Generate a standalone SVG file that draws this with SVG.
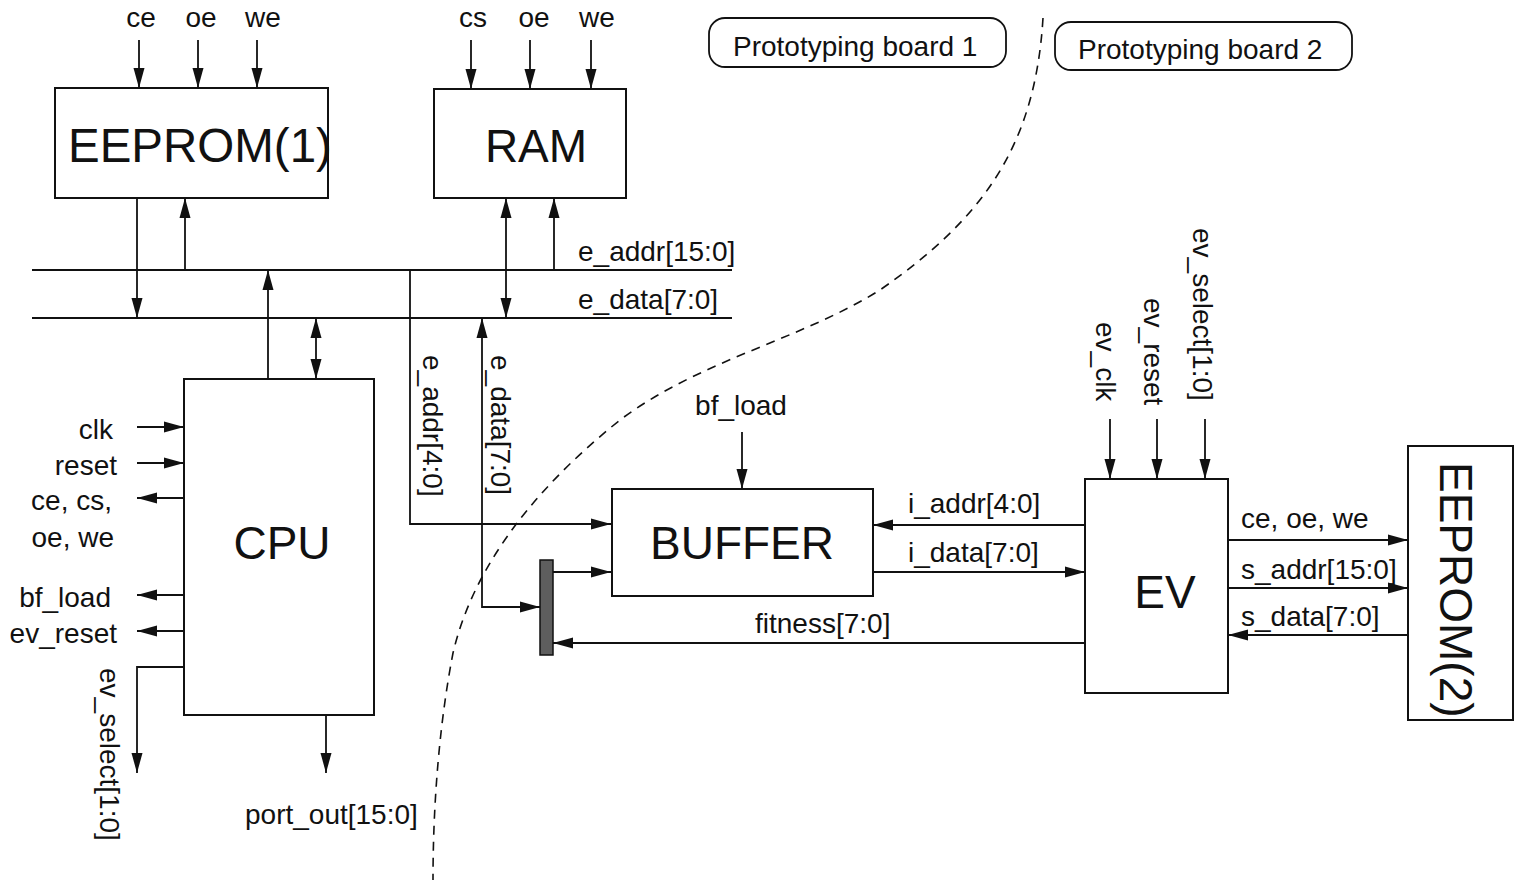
<svg xmlns="http://www.w3.org/2000/svg" width="1515" height="888" viewBox="0 0 1515 888">
<style>
text{font-family:"Liberation Sans",Arial,sans-serif;fill:#111}
.s{font-size:28px}
.b{font-size:46px}
.box{fill:#fff;stroke:#111;stroke-width:2}
.w{fill:none;stroke:#111;stroke-width:1.8}
.a{marker-end:url(#ah)}
.aa{marker-start:url(#ah);marker-end:url(#ah)}
.dash{fill:none;stroke:#111;stroke-width:1.6;stroke-dasharray:9 7}
</style>
<defs>
<marker id="ah" markerUnits="userSpaceOnUse" markerWidth="20" markerHeight="12" refX="20" refY="6" orient="auto-start-reverse">
<path d="M0,0.5 L20,6 L0,11.5 z" fill="#111"/>
</marker>
</defs>
<rect width="1515" height="888" fill="#fff"/>

<g id="boundary">
<path class="dash" d="M1043,18 C1035,150 980,220 880,290 C800,340 700,360 620,420 C520,500 470,580 453,653 C440,720 433,800 433,880"/>
</g>

<g id="board1">
<rect x="709" y="18" width="297" height="49" rx="16" fill="#fff" stroke="#111" stroke-width="1.8"/>
<text class="s" x="733" y="56">Prototyping board 1</text>
</g>
<g id="board2">
<rect x="1055" y="22" width="297" height="48" rx="16" fill="#fff" stroke="#111" stroke-width="1.8"/>
<text class="s" x="1078" y="59">Prototyping board 2</text>
</g>

<g id="eeprom1">
<rect class="box" x="55" y="88" width="273" height="110"/>
<text class="b" x="68" y="162" style="font-size:47.5px">EEPROM(1)</text>
<text class="s" x="141" y="27" text-anchor="middle">ce</text>
<text class="s" x="201" y="27" text-anchor="middle">oe</text>
<text class="s" x="263" y="27" text-anchor="middle">we</text>
</g>

<g id="ram">
<rect class="box" x="434" y="89" width="192" height="109"/>
<text class="b" x="536" y="162" text-anchor="middle">RAM</text>
<text class="s" x="473" y="27" text-anchor="middle">cs</text>
<text class="s" x="534" y="27" text-anchor="middle">oe</text>
<text class="s" x="597" y="27" text-anchor="middle">we</text>
</g>

<g id="cpu">
<rect class="box" x="184" y="379" width="190" height="336"/>
<text class="b" x="282" y="559" text-anchor="middle">CPU</text>
<text class="s" x="113" y="439" text-anchor="end">clk</text>
<text class="s" x="117" y="475" text-anchor="end">reset</text>
<text class="s" x="112" y="510" text-anchor="end">ce, cs,</text>
<text class="s" x="114" y="547" text-anchor="end">oe, we</text>
<text class="s" x="111" y="607" text-anchor="end">bf_load</text>
<text class="s" x="117" y="643" text-anchor="end">ev_reset</text>
<text class="s" transform="translate(100,668) rotate(90)">ev_select[1:0]</text>
<text class="s" x="245" y="824">port_out[15:0]</text>
</g>

<g id="buffer">
<rect class="box" x="612" y="489" width="261" height="107"/>
<text class="b" x="742" y="559" text-anchor="middle">BUFFER</text>
<text class="s" x="741" y="415" text-anchor="middle">bf_load</text>
</g>

<g id="mux">
<rect x="540" y="560" width="13" height="95" fill="#5e5e5e" stroke="#111" stroke-width="1.5"/>
</g>

<g id="ev">
<rect class="box" x="1085" y="479" width="143" height="214"/>
<text class="b" x="1165" y="608" text-anchor="middle">EV</text>
<text class="s" transform="translate(1096,322) rotate(90)">ev_clk</text>
<text class="s" transform="translate(1144,298) rotate(90)">ev_reset</text>
<text class="s" transform="translate(1193,228) rotate(90)">ev_select[1:0]</text>
</g>

<g id="eeprom2">
<rect class="box" x="1408" y="446" width="105" height="274"/>
<text class="b" transform="translate(1440,462) rotate(90)">EEPROM(2)</text>
</g>

<g id="connectors">
<path class="w a" d="M139,40 V88"/>
<path class="w a" d="M198,40 V88"/>
<path class="w a" d="M257,40 V88"/>
<path class="w a" d="M471,40 V89"/>
<path class="w a" d="M530,40 V89"/>
<path class="w a" d="M591,40 V89"/>
<path class="w" d="M32,270 H732"/>
<path class="w" d="M32,318 H732"/>
<path class="w a" d="M137,198 V318"/>
<path class="w a" d="M185,270 V198"/>
<path class="w a" d="M268,379 V270"/>
<path class="w aa" d="M316,318 V379"/>
<path class="w aa" d="M506,198 V318"/>
<path class="w a" d="M554,270 V198"/>
<path class="w a" d="M410,270 V524 H611"/>
<path class="w aa" d="M482,318 V607 H540"/>
<path class="w a" d="M553,572 H611"/>
<path class="w a" d="M742,432 V489"/>
<path class="w a" d="M1085,525 H873"/>
<path class="w a" d="M873,572 H1085"/>
<path class="w a" d="M1085,643 H553"/>
<path class="w a" d="M1110,419 V479"/>
<path class="w a" d="M1157,419 V479"/>
<path class="w a" d="M1205,419 V479"/>
<path class="w a" d="M1228,540 H1408"/>
<path class="w a" d="M1228,588 H1408"/>
<path class="w a" d="M1408,635 H1228"/>
<path class="w a" d="M137,427 H184"/>
<path class="w a" d="M137,463 H184"/>
<path class="w a" d="M184,498 H137"/>
<path class="w a" d="M184,595 H137"/>
<path class="w a" d="M184,631 H137"/>
<path class="w a" d="M184,667 H137 V773"/>
<path class="w a" d="M326,715 V773"/>
<text class="s" x="578" y="261">e_addr[15:0]</text>
<text class="s" x="578" y="309">e_data[7:0]</text>
<text class="s" transform="translate(423,355) rotate(90)">e_addr[4:0]</text>
<text class="s" transform="translate(491,355) rotate(90)">e_data[7:0]</text>
<text class="s" x="908" y="513">i_addr[4:0]</text>
<text class="s" x="908" y="562">i_data[7:0]</text>
<text class="s" x="755" y="633">fitness[7:0]</text>
<text class="s" x="1241" y="528">ce, oe, we</text>
<text class="s" x="1241" y="579">s_addr[15:0]</text>
<text class="s" x="1241" y="626">s_data[7:0]</text>
</g>
</svg>
